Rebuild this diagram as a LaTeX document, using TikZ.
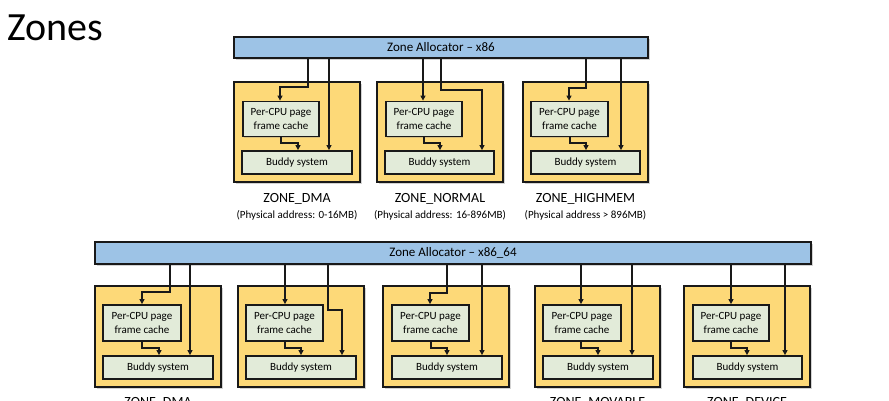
\documentclass[tikz,border=0pt]{standalone}
\usepackage{fontspec}
\setmainfont{Carlito}
\usetikzlibrary{shadows,arrows.meta}
\begin{document}
\begin{tikzpicture}[x=1pt,y=-1pt,
  bar/.style={draw=black!90,line width=1.5pt,fill={rgb,255:red,157;green,195;blue,230},inner sep=0pt,font=\fontsize{13}{15}\selectfont,
    drop shadow={shadow xshift=1.5pt,shadow yshift=-1.5pt,opacity=0.35}},
  zone/.style={draw=black!90,line width=1.6pt,fill={rgb,255:red,253;green,217;blue,120},inner sep=0pt,
    drop shadow={shadow xshift=1.5pt,shadow yshift=-1.5pt,opacity=0.35}},
  pcbox/.style={draw=black!90,line width=1.8pt,fill={rgb,255:red,226;green,235;blue,217},inner sep=0pt,align=center,
    font=\fontsize{11}{13.5}\selectfont,minimum height=35pt,
    drop shadow={shadow xshift=1pt,shadow yshift=-1pt,opacity=0.3}},
  bdbox/.style={draw=black!90,line width=1.8pt,fill={rgb,255:red,226;green,235;blue,217},inner sep=0pt,
    font=\fontsize{11}{13}\selectfont,minimum height=23pt,
    drop shadow={shadow xshift=1pt,shadow yshift=-1pt,opacity=0.3}},
  arr/.style={draw=black!90,line width=1.6pt,-{Triangle[length=5pt,width=5pt]}},
  zname/.style={font=\fontsize{14}{16}\selectfont,inner sep=0pt},
  zaddr/.style={font=\fontsize{11}{13}\selectfont,inner sep=0pt}]
\useasboundingbox (0,0) rectangle (889,400);
\node[anchor=west,inner sep=0pt,font=\fontsize{40}{44}\selectfont] (title) at (7,28) {Zones};

% ---------- x86 ----------
\node[bar,minimum width=414pt,minimum height=21pt] (bar86) at (441,47.5) {Zone Allocator -- x86};

\node[zone,minimum width=126pt,minimum height=100pt] (z1) at (297,132) {};
\node[pcbox,minimum width=76pt] (pc1) at (281,119) {Per-CPU page\\frame cache};
\node[bdbox,minimum width=110pt] (bd1) at (297,162.5) {Buddy system};

\node[zone,minimum width=126pt,minimum height=100pt] (z2) at (440,132) {};
\node[pcbox,minimum width=76pt] (pc2) at (424,119) {Per-CPU page\\frame cache};
\node[bdbox,minimum width=109pt] (bd2) at (439.5,162.5) {Buddy system};

\node[zone,minimum width=125pt,minimum height=100pt] (z3) at (585.5,132) {};
\node[pcbox,minimum width=77pt] (pc3) at (569.5,119) {Per-CPU page\\frame cache};
\node[bdbox,minimum width=109pt] (bd3) at (585.5,162.5) {Buddy system};

\draw[arr] (bar86.south -| 308,0) -- (308,87) -| (pc1.north -| 280,0);
\draw[arr] (bar86.south -| 329,0) -- (bd1.north -| 329,0);
\draw[arr] (pc1.south -| 281,0) -- (281,143) -| (bd1.north -| 298,0);

\draw[arr] (bar86.south -| 423,0) -- (pc2.north -| 423,0);
\draw[arr] (bar86.south -| 441,0) -- (441,90) -| (bd2.north -| 482,0);
\draw[arr] (pc2.south -| 424,0) -- (424,143) -| (bd2.north -| 440,0);

\draw[arr] (bar86.south -| 586,0) -- (586,88) -| (pc3.north -| 569,0);
\draw[arr] (bar86.south -| 621,0) -- (bd3.north -| 621,0);
\draw[arr] (pc3.south -| 570,0) -- (570,143) -| (bd3.north -| 586,0);

\node[zname] (n1) at (297,199) {ZONE\_DMA};
\node[zaddr] (a1) at (297,215) {(Physical address: 0-16MB)};
\node[zname] (n2) at (440,199) {ZONE\_NORMAL};
\node[zaddr] (a2) at (440,215) {(Physical address: 16-896MB)};
\node[zname] (n3) at (585.5,199) {ZONE\_HIGHMEM};
\node[zaddr] (a3) at (585.5,215) {(Physical address > 896MB)};

% ---------- x86_64 ----------
\node[bar,minimum width=716pt,minimum height=22pt] (bar64) at (453,253) {Zone Allocator -- x86\_64};

\node[zone,minimum width=126pt,minimum height=101pt] (y1) at (158,336.5) {};
\node[pcbox,minimum width=78pt,minimum height=36pt] (q1) at (142,323) {Per-CPU page\\frame cache};
\node[bdbox,minimum width=110pt] (b1) at (158,367.5) {Buddy system};

\node[zone,minimum width=126pt,minimum height=101pt] (y2) at (301,336.5) {};
\node[pcbox,minimum width=77pt,minimum height=36pt] (q2) at (284.5,323) {Per-CPU page\\frame cache};
\node[bdbox,minimum width=110pt] (b2) at (301,367.5) {Buddy system};

\node[zone,minimum width=126pt,minimum height=101pt] (y3) at (446,336.5) {};
\node[pcbox,minimum width=77pt,minimum height=36pt] (q3) at (430.5,323) {Per-CPU page\\frame cache};
\node[bdbox,minimum width=110pt] (b3) at (447,367.5) {Buddy system};

\node[zone,minimum width=125pt,minimum height=101pt] (y4) at (597.5,336.5) {};
\node[pcbox,minimum width=78pt,minimum height=36pt] (q4) at (582,323) {Per-CPU page\\frame cache};
\node[bdbox,minimum width=110pt] (b4) at (598,367.5) {Buddy system};

\node[zone,minimum width=126pt,minimum height=101pt] (y5) at (747,336.5) {};
\node[pcbox,minimum width=76pt,minimum height=36pt] (q5) at (731,323) {Per-CPU page\\frame cache};
\node[bdbox,minimum width=109pt] (b5) at (747.5,367.5) {Buddy system};

\draw[arr] (bar64.south -| 170,0) -- (170,292) -| (q1.north -| 142,0);
\draw[arr] (bar64.south -| 190,0) -- (b1.north -| 190,0);
\draw[arr] (q1.south -| 142,0) -- (142,348) -| (b1.north -| 159,0);

\draw[arr] (bar64.south -| 285,0) -- (q2.north -| 285,0);
\draw[arr] (bar64.south -| 328,0) -- (328,310) -| (b2.north -| 342,0);
\draw[arr] (q2.south -| 285,0) -- (285,348) -| (b2.north -| 301,0);

\draw[arr] (bar64.south -| 447,0) -- (447,293) -| (q3.north -| 430,0);
\draw[arr] (bar64.south -| 482,0) -- (b3.north -| 482,0);
\draw[arr] (q3.south -| 431,0) -- (431,348) -| (b3.north -| 447,0);

\draw[arr] (bar64.south -| 581,0) -- (q4.north -| 581,0);
\draw[arr] (bar64.south -| 632,0) -- (b4.north -| 632,0);
\draw[arr] (q4.south -| 581,0) -- (581,348) -| (b4.north -| 598,0);

\draw[arr] (bar64.south -| 731,0) -- (q5.north -| 731,0);
\draw[arr] (bar64.south -| 785,0) -- (b5.north -| 785,0);
\draw[arr] (q5.south -| 731,0) -- (731,348) -| (b5.north -| 747,0);

\node[zname] (m1) at (158,403) {ZONE\_DMA};
\node[zname] (m4) at (597.5,403) {ZONE\_MOVABLE};
\node[zname] (m5) at (747,403) {ZONE\_DEVICE};
\end{tikzpicture}
\end{document}
